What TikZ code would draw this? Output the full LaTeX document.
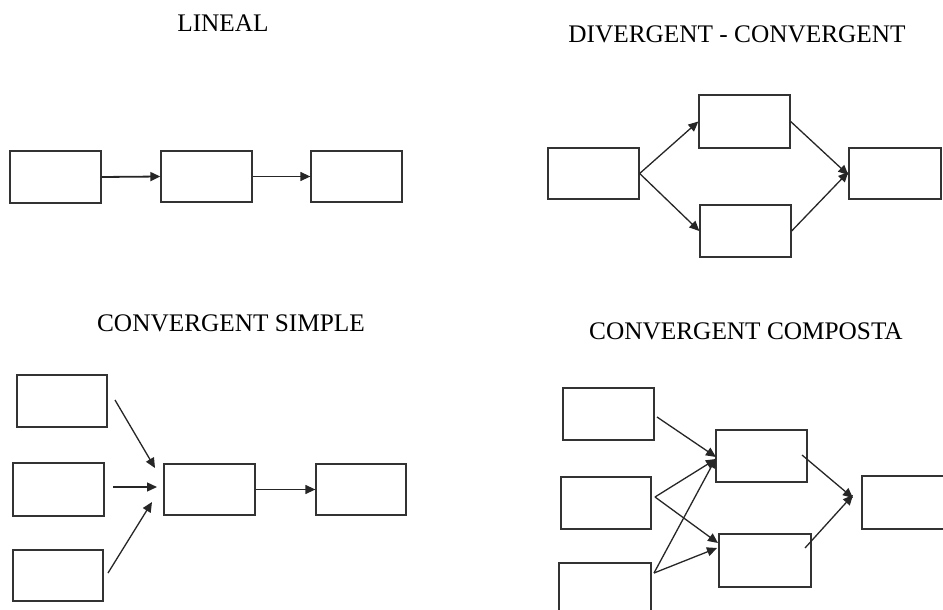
\documentclass[tikz,border=0pt]{standalone}
\usepackage{fontspec}
\setmainfont{Liberation Serif}
\usetikzlibrary{arrows.meta}
\tikzset{
  box/.style={draw=black!80, line width=1.3pt, rectangle, inner sep=0pt, minimum width=91pt, minimum height=52pt},
  conn/.style={draw=black!85, line width=1.3pt, -{Triangle[length=10pt,width=9pt]}},
  title/.style={inner sep=0pt, anchor=base, font=\fontsize{25.3}{30}\selectfont}
}
\begin{document}
\begin{tikzpicture}[x=1pt,y=-1pt]
\useasboundingbox (0,0) rectangle (943,610);
\clip (0,0) rectangle (943,610);
\fill[white] (0,0) rectangle (943,610);

% titles
\node[title] (t1) at (223,32) {LINEAL};
\node[title] (t2) at (737,43) {DIVERGENT - CONVERGENT};
\node[title] (t3) at (231,331) {CONVERGENT SIMPLE};
\node[title] (t4) at (746,339) {CONVERGENT COMPOSTA};

% LINEAL
\node[box] (L1) at (55.5,177) {};
\node[box, minimum height=51pt] (L2) at (206.5,176.5) {};
\node[box, minimum height=51pt] (L3) at (356.5,176.5) {};
\draw[conn, line width=1.8pt] (L1.east) -- (L2.west);
\draw[conn] (L2.east) -- (L3.west);

% DIVERGENT - CONVERGENT
\node[box, minimum height=51pt] (A) at (593.5,173.5) {};
\node[box, minimum height=53pt] (B) at (744.5,121.5) {};
\node[box] (C) at (745.5,231) {};
\node[box, minimum width=92pt, minimum height=51pt] (D) at (895,173.5) {};
\draw[conn] (A.east) -- (B.west);
\draw[conn] (A.east) -- (C.west);
\draw[conn] (B.east) -- ([yshift=-1.5pt]D.west);
\draw[conn] (C.east) -- ([yshift=1.5pt]D.west);

% CONVERGENT SIMPLE
\node[box, minimum width=90pt] (S1) at (62,401) {};
\node[box, minimum height=53pt] (S2) at (58.5,489.5) {};
\node[box, minimum width=90pt, minimum height=51pt] (S3) at (58,575.5) {};
\node[box, minimum height=51pt] (SC) at (209.5,489.5) {};
\node[box, minimum width=90pt, minimum height=51pt] (SR) at (361,489.5) {};
\coordinate (s1a) at (115,400);
\coordinate (s1b) at (155,468);
\coordinate (s2a) at (113,487);
\coordinate (s2b) at (157,487);
\coordinate (s3a) at (108,573);
\coordinate (s3b) at (152,502);
\draw[conn] (s1a) -- (s1b);
\draw[conn] (s2a) -- (s2b);
\draw[conn] (s3a) -- (s3b);
\draw[conn] (SC.east) -- (SR.west);

% CONVERGENT COMPOSTA
\node[box] (P1) at (608.5,414) {};
\node[box, minimum width=90pt] (P2) at (606,503) {};
\node[box, minimum width=92pt] (P3) at (605,589) {};
\node[box] (PT) at (761.5,456) {};
\node[box, minimum width=92pt, minimum height=53pt] (PB) at (765,560.5) {};
\node[box, minimum height=53pt] (PR) at (907.5,502.5) {};
\coordinate (p1s) at (657,417);
\coordinate (p2s) at (655,497);
\coordinate (p3s) at (654,573);
\coordinate (pts) at (802,455);
\coordinate (pbs) at (805,548);
\coordinate (prin) at (853,496.5);
\coordinate (pbin1) at (718,543);
\coordinate (pbin2) at (717,548);
\coordinate (ptin1) at (716,457);
\coordinate (ptin2) at (716,459);
\coordinate (ptin3) at (716,458);
\draw[conn] (p1s) -- (ptin1);
\draw[conn] (p2s) -- (ptin2);
\draw[conn] (p2s) -- (pbin1);
\draw[conn] (p3s) -- (ptin3);
\draw[conn] (p3s) -- (pbin2);
\draw[conn] (pts) -- ([yshift=-1.5pt]prin);
\draw[conn] (pbs) -- ([yshift=1.5pt]prin);
\end{tikzpicture}
\end{document}
